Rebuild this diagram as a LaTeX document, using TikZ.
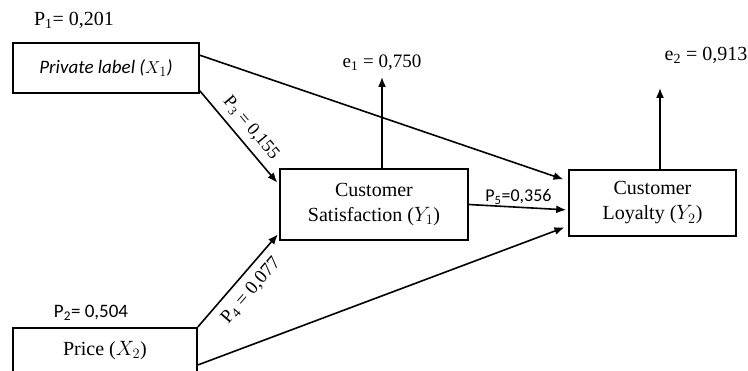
\documentclass[tikz,border=0pt]{standalone}
\usepackage{fontspec}
\setmainfont{Liberation Serif}
\newfontfamily\calfont{Carlito}
\usetikzlibrary{arrows.meta}
\begin{document}
\begin{tikzpicture}[x=1pt,y=-1pt,
        box/.style={draw,line width=1.6pt,align=center,inner sep=0pt,font=\fontsize{20}{25}\selectfont},
        path/.style={-{Latex[length=10pt,width=8pt]},line width=1.6pt},
        coef/.style={inner sep=1pt,font=\fontsize{18}{20}\selectfont}]
        \useasboundingbox (0,0) rectangle (748,371);

        % variables
        \node[box,minimum width=186,minimum height=50,font=\fontsize{19}{23}\selectfont] (x1) at (106,68) {\calfont\itshape Private label ($X_1$)};
        \node[box,minimum width=184,anchor=north,text height=28pt,text depth=32pt] (x2) at (105,327) {Price ($X_2$)};
        \node[box,minimum width=188,minimum height=71] (y1) at (374,204.5) {Customer\\Satisfaction ($Y_1$)};
        \node[box,minimum width=167,minimum height=66] (y2) at (652.5,203) {Customer\\Loyalty ($Y_2$)};

        % coefficients
        \node[coef,font=\fontsize{20}{22}\selectfont] (p1) at (74,20) {P\textsubscript{1}= 0,201};
        \node[coef,font=\fontsize{19}{21}\selectfont] (p2) at (91,313) {\calfont P\textsubscript{2}= 0,504};
        \node[coef,font=\fontsize{19}{21}\selectfont] (e1) at (382,63) {e\textsubscript{1} = 0,750};
        \node[coef,font=\fontsize{20}{22}\selectfont] (e2) at (706,55) {e\textsubscript{2} = 0,913};
        \coordinate (e2tip) at (660,88);

        % paths
        \draw[path,shorten >=5pt] ([yshift=-13]x1.north east) -- ([yshift=22]y2.west);
        \draw[path,shorten >=3pt] ([yshift=3]x1.south east) -- node[coef,sloped,above=6pt]{P\textsubscript{3} = 0,155} ([yshift=19.5]y1.west);
        \draw[path,shorten >=2pt] (x2.north east) -- node[coef,sloped,below=7pt,font=\fontsize{19}{21}\selectfont]{P\textsubscript{4} = 0,077} ([yshift=8]y1.south west);
        \draw[path,shorten >=4pt] ([yshift=-38]x2.north east) -- ([yshift=-23]y2.west);
        \draw[path,shorten >=2pt] (y1.east) -- node[coef,above=1pt]{\calfont P\textsubscript{5}=0,356} ([yshift=-7]y2.west);
        \draw[path,shorten >=5pt] ([xshift=8]y1.north) -- (e1.south);
        \draw[path] ([xshift=7.5]y2.north) -- (e2tip);
\end{tikzpicture}
\end{document}
